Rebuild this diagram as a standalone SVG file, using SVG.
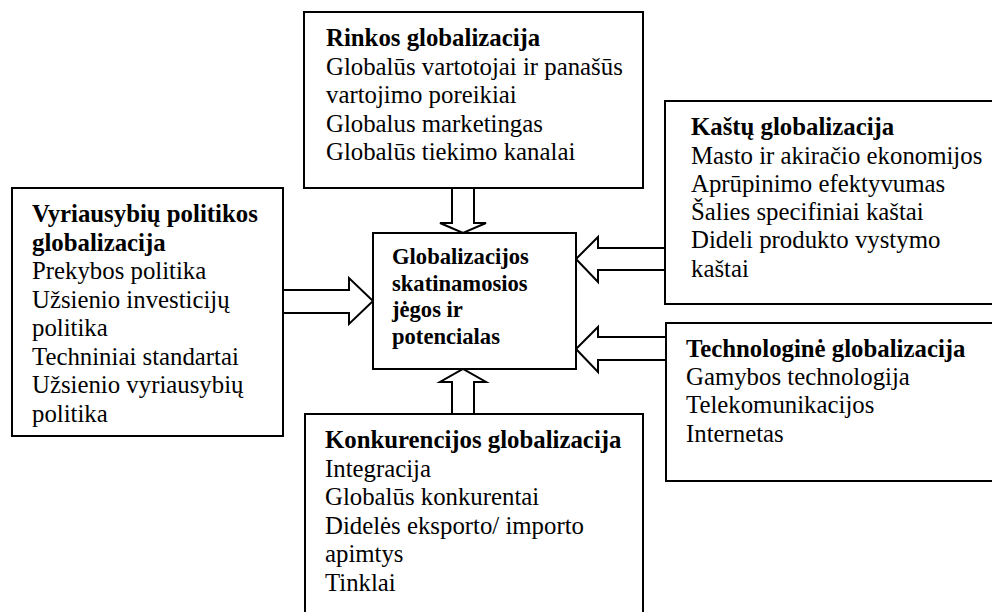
<svg xmlns="http://www.w3.org/2000/svg" width="992" height="612" viewBox="0 0 992 612">
<style>
.box{fill:#fff;stroke:#000;stroke-width:2}
.arr{fill:#fff;stroke:#000;stroke-width:2;stroke-linejoin:miter}
text{font-family:"Liberation Serif","Times New Roman",serif;font-size:24.8px;fill:#000}
.b{font-weight:bold}
.c{font-weight:bold;font-size:22.6px}
</style>
<rect width="992" height="612" fill="#fff"/>
<g id="connectors">
<polygon class="arr" points="452,188 452,223 440,223 463,233 486,223 474,223 474,188"/>
<polygon class="arr" points="452,414 452,382 440,382 463,369 486,382 474,382 474,414"/>
<polygon class="arr" points="283,290 349,290 349,278 373,301 349,324 349,313 283,313"/>
<polygon class="arr" points="665,248 598,248 598,237 576,259 598,282 598,270 665,270"/>
<polygon class="arr" points="666,337 598,337 598,327 576,349 598,372 598,360 666,360"/>
</g>
<g id="rinkos">
<rect class="box" x="304" y="12" width="339" height="176"/>
<text x="326" y="46" class="b">Rinkos globalizacija</text>
<text x="326" y="74.5">Globalūs vartotojai ir panašūs</text>
<text x="326" y="103">vartojimo poreikiai</text>
<text x="326" y="131.5">Globalus marketingas</text>
<text x="326" y="160">Globalūs tiekimo kanalai</text>
</g>
<g id="kastu">
<rect class="box" x="665" y="101" width="340" height="203"/>
<text x="691" y="135" class="b">Kaštų globalizacija</text>
<text x="691" y="163.5">Masto ir akiračio ekonomijos</text>
<text x="691" y="192">Aprūpinimo efektyvumas</text>
<text x="691" y="220">Šalies specifiniai kaštai</text>
<text x="691" y="248">Dideli produkto vystymo</text>
<text x="691" y="277">kaštai</text>
</g>
<g id="vyriausybiu">
<rect class="box" x="12" y="188" width="271" height="248"/>
<text x="32" y="222" class="b">Vyriausybių politikos</text>
<text x="32" y="250.5" class="b">globalizacija</text>
<text x="32" y="279">Prekybos politika</text>
<text x="32" y="307.5">Užsienio investicijų</text>
<text x="32" y="336">politika</text>
<text x="32" y="364.5">Techniniai standartai</text>
<text x="32" y="393">Užsienio vyriausybių</text>
<text x="32" y="421.5">politika</text>
</g>
<g id="center">
<rect class="box" x="373" y="233" width="203" height="136"/>
<text x="392" y="264" class="c">Globalizacijos</text>
<text x="392" y="290.5" class="c">skatinamosios</text>
<text x="392" y="317" class="c">jėgos ir</text>
<text x="392" y="343.5" class="c">potencialas</text>
</g>
<g id="technologine">
<rect class="box" x="666" y="323" width="340" height="158"/>
<text x="686" y="357" class="b">Technologinė globalizacija</text>
<text x="686" y="385">Gamybos technologija</text>
<text x="686" y="413">Telekomunikacijos</text>
<text x="686" y="442">Internetas</text>
</g>
<g id="konkurencijos">
<rect class="box" x="305" y="414" width="338" height="220"/>
<text x="325" y="448" class="b">Konkurencijos globalizacija</text>
<text x="325" y="476.5">Integracija</text>
<text x="325" y="505">Globalūs konkurentai</text>
<text x="325" y="533.5">Didelės eksporto/ importo</text>
<text x="325" y="562">apimtys</text>
<text x="325" y="591">Tinklai</text>
</g>
</svg>
